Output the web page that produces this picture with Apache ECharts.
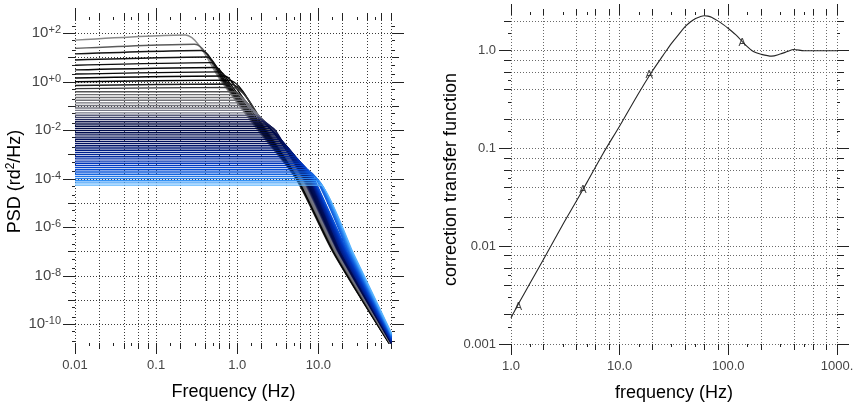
<!DOCTYPE html>
<html>
<head>
<meta charset="utf-8">
<script src="https://cdn.jsdelivr.net/npm/echarts@6/dist/echarts.min.js"></script>
<style>
  html, body { margin: 0; padding: 0; background: #fff; }
  #main { width: 854px; height: 406px; }
</style>
</head>
<body>
<div id="main"></div>
<script>
// ---- left panel: family of PSD curves ----
// flat level of each curve, in decades (10^x rd^2/Hz), top curve first
var levelExp = [1.72, 1.38, 1.15, 0.90, 0.68, 0.49, 0.32, 0.16, 0.00, -0.15,
  -0.28, -0.41, -0.53, -0.65, -0.76, -0.87, -0.98, -1.08, -1.18, -1.28,
  -1.38, -1.47, -1.56, -1.65, -1.74, -1.83, -1.92, -2.01, -2.10, -2.19,
  -2.28, -2.37, -2.46, -2.55, -2.64, -2.73, -2.82, -2.91, -3.00, -3.09,
  -3.18, -3.27, -3.36, -3.45, -3.54, -3.63, -3.72, -3.81, -3.90, -3.99,
  -4.08, -4.17, -4.26];
// peak just before the roll-off (only the upper curves show one)
var bumpExp = [1.93, 1.55, 1.29, 1.02, 0.79, 0.59, 0.41, 0.24, 0.07, -0.09, -0.23];
// where each curve leaves its flat level (Hz)
var kneeHz = [0.23, 0.30, 0.36, 0.42, 0.48, 0.55, 0.62, 0.70, 0.78,
  0.82, 0.88, 0.95, 1.02, 1.09, 1.16, 1.24, 1.32, 1.41, 1.50,
  1.60, 1.70, 1.81, 1.93, 2.05, 2.18, 2.32, 2.46, 2.61, 2.77,
  2.94, 3.12, 3.30, 3.49, 3.68, 3.88, 4.10, 4.32, 4.55, 4.80,
  5.10, 5.40, 5.75, 6.10, 6.50, 6.90, 7.40, 7.90, 8.40, 8.90,
  9.40, 9.90, 10.3, 10.7];
// frequency where the roll-off crosses 1e0, 1e-2, 1e-4, 1e-7 (only curves that start above)
var hzAt1e0 = [0.64, 0.66, 0.68, 0.70, 0.72, 0.75, 0.79, 0.86];
var hzAt1e2 = [1.80, 1.85, 1.90, 1.95, 2.00, 2.06, 2.12, 2.18, 2.24, 2.30,
  2.36, 2.41, 2.46, 2.51, 2.56, 2.61, 2.66, 2.71, 2.76, 2.80,
  2.84, 2.88, 2.92, 2.96];
var hzAt1e4 = [5.30, 5.35, 5.40, 5.45, 5.50, 5.55, 5.60, 5.65, 5.70, 5.75,
  5.80, 5.85, 5.90, 5.95, 6.00, 6.05, 6.10, 6.15, 6.20, 6.30,
  6.40, 6.50, 6.60, 6.70, 6.80, 6.90, 7.00, 7.10, 7.20, 7.30,
  7.40, 7.50, 7.60, 7.70, 7.80, 7.90, 8.00, 8.10, 8.20, 8.30,
  8.40, 8.50, 8.60, 8.70, 8.80, 8.90];
var hzAt1e7 = [15.0, 15.1, 15.2, 15.3, 15.4, 15.5, 15.6, 15.7, 15.8, 15.9,
  16.0, 16.1, 16.2, 16.4, 16.5, 16.6, 16.8, 16.9, 17.0, 17.2,
  17.3, 17.4, 17.6, 17.7, 17.8, 18.0, 18.1, 18.2, 18.4, 18.5,
  18.6, 18.8, 18.9, 19.0, 19.2, 19.3, 19.4, 19.5, 20.0, 20.4,
  20.8, 21.2, 21.6, 22.0, 22.4, 22.8, 23.3, 23.8, 24.3, 24.8,
  25.3, 25.9, 26.4];
// level reached at the last frequency (decades)
var endExp = [-10.95, -10.94, -10.94, -10.93, -10.92, -10.92, -10.91, -10.90, -10.90, -10.89,
  -10.88, -10.88, -10.87, -10.86, -10.86, -10.85, -10.84, -10.84, -10.83, -10.82,
  -10.82, -10.81, -10.80, -10.80, -10.79, -10.78, -10.78, -10.77, -10.76, -10.76,
  -10.75, -10.74, -10.74, -10.73, -10.73, -10.72, -10.72, -10.72, -10.70, -10.68,
  -10.66, -10.64, -10.62, -10.60, -10.58, -10.56, -10.53, -10.51, -10.49, -10.46,
  -10.44, -10.41, -10.38];
var startHz = 0.01;
var endHz = 80;

// ---- right panel: correction transfer function ----
var corrHz = [1, 1.2, 1.5, 2, 3, 4, 5, 7, 10, 15,
  20, 25, 30, 35, 40, 45, 50, 55, 60, 65,
  70, 80, 90, 100, 120, 140, 170, 200, 250, 300,
  350, 400, 500, 700, 1000];
var corrGain = [0.00185, 0.0027, 0.0042, 0.0074, 0.0167, 0.029, 0.045, 0.088, 0.17, 0.37,
  0.62, 0.89, 1.19, 1.47, 1.76, 1.98, 2.14, 2.23, 2.28, 2.26,
  2.20, 2.02, 1.85, 1.69, 1.42, 1.18, 0.98, 0.92, 0.88, 0.925,
  0.98, 1.03, 1.0, 1.0, 1.0];
var markHz = [1.17, 4.6, 18.7, 134];
var markGain = [0.0024, 0.0378, 0.565, 1.21];

// ---- tick labels ----
var psdTicks = [1e2, 1, 1e-2, 1e-4, 1e-6, 1e-8, 1e-10];
var psdTickExp = ['+2', '+0', '-2', '-4', '-6', '-8', '-10'];
var freqTicksL = [0.01, 0.1, 1, 10];
var freqTextL = ['0.01', '0.1', '1.0', '10.0'];
var corrTicks = [0.001, 0.01, 0.1, 1];
var corrText = ['0.001', '0.01', '0.1', '1.0'];
var freqTicksR = [1, 10, 100, 1000];
var freqTextR = ['1.0', '10.0', '100.0', '1000.'];

var FONT = "'Liberation Sans', Arial, sans-serif";
var LABEL_GREY = '#454545';
var myChart = echarts.init(document.getElementById('main'));

function decadeSet(lo, hi, mults) {
  var out = [];
  for (var e = -12; e <= 4; e++) {
    for (var j = 0; j < mults.length; j++) {
      var v = +(mults[j] * Math.pow(10, e)).toPrecision(6);
      if (v >= lo * 0.9999 && v <= hi * 1.0001) out.push(v);
    }
  }
  return out;
}

function lookup(vals, texts) {
  return function (v) {
    for (var j = 0; j < vals.length; j++) {
      if (Math.abs(Math.log10(v / vals[j])) < 1e-6) return texts[j];
    }
    return '';
  };
}

// one log axis; several are stacked per side to get grid lines and ticks of different lengths
function logAxis(grid, pos, min, max, o) {
  var a = {
    type: 'log', logBase: 10, gridIndex: grid, position: pos, min: min, max: max,
    axisLine: { show: false, onZero: false },
    axisTick: { show: !!o.len, length: o.len || 1, inside: false, customValues: o.ticks,
      lineStyle: { color: '#222', width: 1 } },
    axisLabel: { show: false },
    splitLine: { show: !!o.grid, lineStyle: { color: o.grid || '#000', width: 1, type: [1, 2] } },
    minorTick: { show: false }, minorSplitLine: { show: false },
    silent: true
  };
  if (o.labels) {
    a.axisLabel = {
      show: true, customValues: o.labels, formatter: o.fmt, margin: o.margin,
      color: LABEL_GREY, fontSize: 13, fontFamily: FONT,
      rich: {
        m: { fontSize: 15, color: LABEL_GREY, fontFamily: FONT, lineHeight: 17 },
        s: { fontSize: 11, color: LABEL_GREY, fontFamily: FONT, lineHeight: 11, verticalAlign: 'top' }
      }
    };
  }
  if (o.name) {
    a.name = o.name;
    a.nameLocation = 'middle';
    a.nameGap = o.nameGap;
    a.nameTextStyle = {
      fontSize: 18, color: '#000', fontFamily: FONT,
      rich: {
        a: { fontSize: 18, color: '#000', fontFamily: FONT, lineHeight: 22 },
        s: { fontSize: 12, color: '#000', fontFamily: FONT, lineHeight: 12, verticalAlign: 'top' }
      }
    };
  }
  return a;
}

// axis ranges
var xL = [0.01, 81], yL = [1.69e-11, 354];
var xR = [1, 1000], yR = [0.001, 2.32];

var oddDecades = decadeSet(yL[0], yL[1], [1]).filter(function (v) {
  return Math.round(Math.log10(v)) % 2 !== 0;
});

var xAxes = [
  logAxis(0, 'bottom', xL[0], xL[1], { ticks: decadeSet(xL[0], xL[1], [1, 2, 4, 6, 8]), grid: '#3a3a3a',
    labels: freqTicksL, fmt: lookup(freqTicksL, freqTextL), margin: 16, name: 'Frequency (Hz)', nameGap: 40 }),
  logAxis(0, 'bottom', xL[0], xL[1], { ticks: decadeSet(xL[0], xL[1], [1]), len: 11 }),
  logAxis(0, 'bottom', xL[0], xL[1], { ticks: decadeSet(xL[0], xL[1], [2, 4, 6, 8]), len: 6 }),
  logAxis(0, 'bottom', xL[0], xL[1], { ticks: decadeSet(xL[0], xL[1], [1.5, 3, 5]), len: 3 }),
  logAxis(0, 'top', xL[0], xL[1], { ticks: decadeSet(xL[0], xL[1], [1]), len: 12 }),
  logAxis(0, 'top', xL[0], xL[1], { ticks: decadeSet(xL[0], xL[1], [2, 4, 6, 8]), len: 7 }),
  logAxis(0, 'top', xL[0], xL[1], { ticks: decadeSet(xL[0], xL[1], [1.5, 3, 5]), len: 3 }),

  logAxis(1, 'bottom', xR[0], xR[1], { ticks: decadeSet(xR[0], xR[1], [1, 2, 4, 6, 8]), grid: '#6a6a6a',
    labels: freqTicksR, fmt: lookup(freqTicksR, freqTextR), margin: 16, name: 'frequency (Hz)', nameGap: 40 }),
  logAxis(1, 'bottom', xR[0], xR[1], { ticks: decadeSet(xR[0], xR[1], [1]), len: 11 }),
  logAxis(1, 'bottom', xR[0], xR[1], { ticks: decadeSet(xR[0], xR[1], [2, 4, 6, 8]), len: 6 }),
  logAxis(1, 'bottom', xR[0], xR[1], { ticks: decadeSet(xR[0], xR[1], [1.5, 3, 5]), len: 3 }),
  logAxis(1, 'top', xR[0], xR[1], { ticks: decadeSet(xR[0], xR[1], [1]), len: 11 }),
  logAxis(1, 'top', xR[0], xR[1], { ticks: decadeSet(xR[0], xR[1], [2, 4, 6, 8]), len: 6 }),
  logAxis(1, 'top', xR[0], xR[1], { ticks: decadeSet(xR[0], xR[1], [1.5, 3, 5]), len: 3 })
];

var yAxes = [
  logAxis(0, 'left', yL[0], yL[1], { ticks: decadeSet(yL[0], yL[1], [1]), grid: '#3a3a3a',
    labels: psdTicks, margin: 14,
    fmt: lookup(psdTicks, psdTickExp.map(function (s) { return '{m|10}{s|' + s + '}'; })),
    name: '{a|PSD (rd}{s|2}{a|/Hz)}', nameGap: 42 }),
  logAxis(0, 'left', yL[0], yL[1], { ticks: psdTicks, len: 12 }),
  logAxis(0, 'left', yL[0], yL[1], { ticks: oddDecades, len: 7 }),
  logAxis(0, 'left', yL[0], yL[1], { ticks: decadeSet(yL[0], yL[1], [2, 5]), len: 3 }),
  logAxis(0, 'right', yL[0], yL[1], { ticks: psdTicks, len: 12 }),
  logAxis(0, 'right', yL[0], yL[1], { ticks: oddDecades, len: 7 }),
  logAxis(0, 'right', yL[0], yL[1], { ticks: decadeSet(yL[0], yL[1], [2, 5]), len: 3 }),

  logAxis(1, 'left', yR[0], yR[1], { ticks: decadeSet(yR[0], yR[1], [1, 2, 4, 6, 8]), grid: '#6a6a6a',
    labels: corrTicks, fmt: lookup(corrTicks, corrText), margin: 15,
    name: 'correction transfer function', nameGap: 44 }),
  logAxis(1, 'left', yR[0], yR[1], { ticks: decadeSet(yR[0], yR[1], [1]), len: 12 }),
  logAxis(1, 'left', yR[0], yR[1], { ticks: decadeSet(yR[0], yR[1], [2, 4, 6, 8]), len: 7 }),
  logAxis(1, 'left', yR[0], yR[1], { ticks: decadeSet(yR[0], yR[1], [1.5, 3, 5]), len: 3 }),
  logAxis(1, 'right', yR[0], yR[1], { ticks: decadeSet(yR[0], yR[1], [1]), len: 12 }),
  logAxis(1, 'right', yR[0], yR[1], { ticks: decadeSet(yR[0], yR[1], [2, 4, 6, 8]), len: 7 }),
  logAxis(1, 'right', yR[0], yR[1], { ticks: decadeSet(yR[0], yR[1], [1.5, 3, 5]), len: 3 })
];

// colour ramp of the curve family: grey/black on top, dark navy, royal blue, light blue at the bottom
var rampStops = [
  [0, [138, 138, 138]], [1, [90, 90, 90]], [2, [20, 20, 20]], [8, [0, 0, 0]],
  [12, [110, 110, 112]], [19, [118, 120, 136]], [22, [30, 36, 90]], [25, [0, 10, 68]],
  [33, [0, 16, 96]], [38, [0, 36, 150]], [43, [0, 58, 196]], [47, [20, 100, 225]],
  [50, [50, 145, 245]], [52, [90, 180, 255]]
];
function rampColor(i) {
  for (var k = 0; k < rampStops.length - 1; k++) {
    var a = rampStops[k], b = rampStops[k + 1];
    if (i <= b[0]) {
      var t = (i - a[0]) / (b[0] - a[0]);
      var c = a[1].map(function (x, n) { return Math.round(x + (b[1][n] - x) * t); });
      return 'rgb(' + c.join(',') + ')';
    }
  }
  return 'rgb(90,180,255)';
}

var psdSeries = [];
for (var i = 0; i < levelExp.length; i++) {
  var lvl = Math.pow(10, levelExp[i]);
  var peak = i < bumpExp.length ? Math.pow(10, bumpExp[i]) : lvl;
  var pts = [[startHz, lvl], [kneeHz[i], peak]];
  if (i < hzAt1e0.length) pts.push([hzAt1e0[i], 1]);
  if (i < hzAt1e2.length) pts.push([hzAt1e2[i], 1e-2]);
  if (i < hzAt1e4.length) pts.push([hzAt1e4[i], 1e-4]);
  pts.push([hzAt1e7[i], 1e-7]);
  pts.push([endHz, Math.pow(10, endExp[i])]);
  psdSeries.push({
    type: 'line', xAxisIndex: 0, yAxisIndex: 0, data: pts,
    symbol: 'none', smooth: i < bumpExp.length ? 0.25 : 0.1, silent: true,
    lineStyle: { color: rampColor(i), width: 1.4 }
  });
}

psdSeries.push({
  type: 'line', xAxisIndex: 7, yAxisIndex: 7,
  data: corrHz.map(function (f, j) { return [f, corrGain[j]]; }),
  symbol: 'none', smooth: 0.3, silent: true,
  lineStyle: { color: '#262626', width: 1.1 }
});
psdSeries.push({
  type: 'scatter', xAxisIndex: 7, yAxisIndex: 7,
  data: markHz.map(function (f, j) { return [f, markGain[j]]; }),
  symbolSize: 1, itemStyle: { color: 'rgba(0,0,0,0)' }, silent: true,
  label: { show: true, position: 'inside', formatter: 'A', fontSize: 11,
    fontFamily: FONT, color: '#111' }
});

var option = {
  animation: false,
  backgroundColor: '#fff',
  grid: [
    { left: 75, top: 20, width: 317, height: 323, outerBoundsMode: 'none', containLabel: false },
    { left: 511, top: 15, width: 326, height: 329, outerBoundsMode: 'none', containLabel: false }
  ],
  xAxis: xAxes,
  yAxis: yAxes,
  series: psdSeries
};

myChart.setOption(option);
</script>
</body>
</html>
